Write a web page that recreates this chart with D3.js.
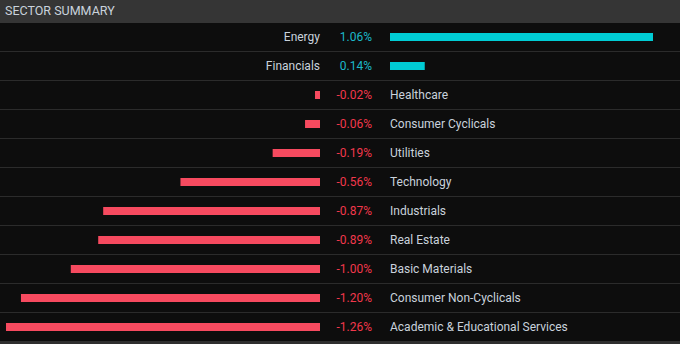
<!DOCTYPE html>
<html>
<head>
<meta charset="utf-8">
<script src="https://cdn.jsdelivr.net/npm/d3@7/dist/d3.min.js"></script>
<style>
  html, body { margin: 0; padding: 0; background: #0d0d0d; }
  svg { display: block; }
  text { font-family: Roboto, "Noto Sans", sans-serif; }
</style>
</head>
<body>
<svg id="chart" width="680" height="344"></svg>
<script>
const sectors = ["Energy", "Financials", "Healthcare", "Consumer Cyclicals", "Utilities",
  "Technology", "Industrials", "Real Estate", "Basic Materials",
  "Consumer Non-Cyclicals", "Academic & Educational Services"];
const changes = [1.06, 0.14, -0.02, -0.06, -0.19, -0.56, -0.87, -0.89, -1.00, -1.20, -1.26];
const title = "SECTOR SUMMARY";

const W = 680, H = 344, headerH = 23, rowH = 29;
const svg = d3.select("#chart");

svg.append("rect").attr("width", W).attr("height", H).attr("fill", "#0d0d0d");
svg.append("rect").attr("width", W).attr("height", headerH).attr("fill", "#353535");
svg.append("text").attr("x", 5).attr("y", 14.5)
  .attr("fill", "#c9d2dc").attr("font-size", 12.5).attr("font-weight", 400)
  .text(title);

const y = d3.scaleBand().domain(sectors)
  .range([headerH, headerH + rowH * sectors.length]);

// positive bars grow right from the value column, negative bars grow left from the name column
const xPos = d3.scaleLinear().domain([0, 1.06]).range([390, 653]);
const xNeg = d3.scaleLinear().domain([0, -1.26]).range([320, 6]);
const pct = v => (v < 0 ? "-" : "") + Math.abs(v).toFixed(2) + "%";

const rows = svg.selectAll("g.row").data(sectors.map((s, i) => ({ name: s, v: changes[i] })))
  .join("g").attr("class", "row")
  .attr("transform", d => `translate(0,${y(d.name)})`);

rows.append("line")
  .attr("x1", 0).attr("x2", W).attr("y1", rowH - 0.5).attr("y2", rowH - 0.5)
  .attr("stroke", "#2b2b2b").attr("stroke-width", 1);

rows.append("rect")
  .attr("x", d => d.v >= 0 ? xPos(0) : xNeg(d.v))
  .attr("width", d => d.v >= 0 ? xPos(d.v) - xPos(0) : xNeg(0) - xNeg(d.v))
  .attr("y", 10).attr("height", 8)
  .attr("fill", d => d.v >= 0 ? "#00ccd4" : "#f64a5f");

rows.append("text")
  .attr("x", 372).attr("y", 18).attr("text-anchor", "end")
  .attr("font-size", 12)
  .attr("fill", d => d.v >= 0 ? "#1cb9c9" : "#f2384c")
  .text(d => pct(d.v));

rows.append("text")
  .attr("x", d => d.v >= 0 ? 320 : 390)
  .attr("text-anchor", d => d.v >= 0 ? "end" : "start")
  .attr("y", 18).attr("font-size", 12)
  .attr("fill", "#c9d2dc")
  .text(d => d.name);

svg.append("rect").attr("x", 0).attr("y", 341).attr("width", W).attr("height", 3).attr("fill", "#2e2e2e");
</script>
</body>
</html>
